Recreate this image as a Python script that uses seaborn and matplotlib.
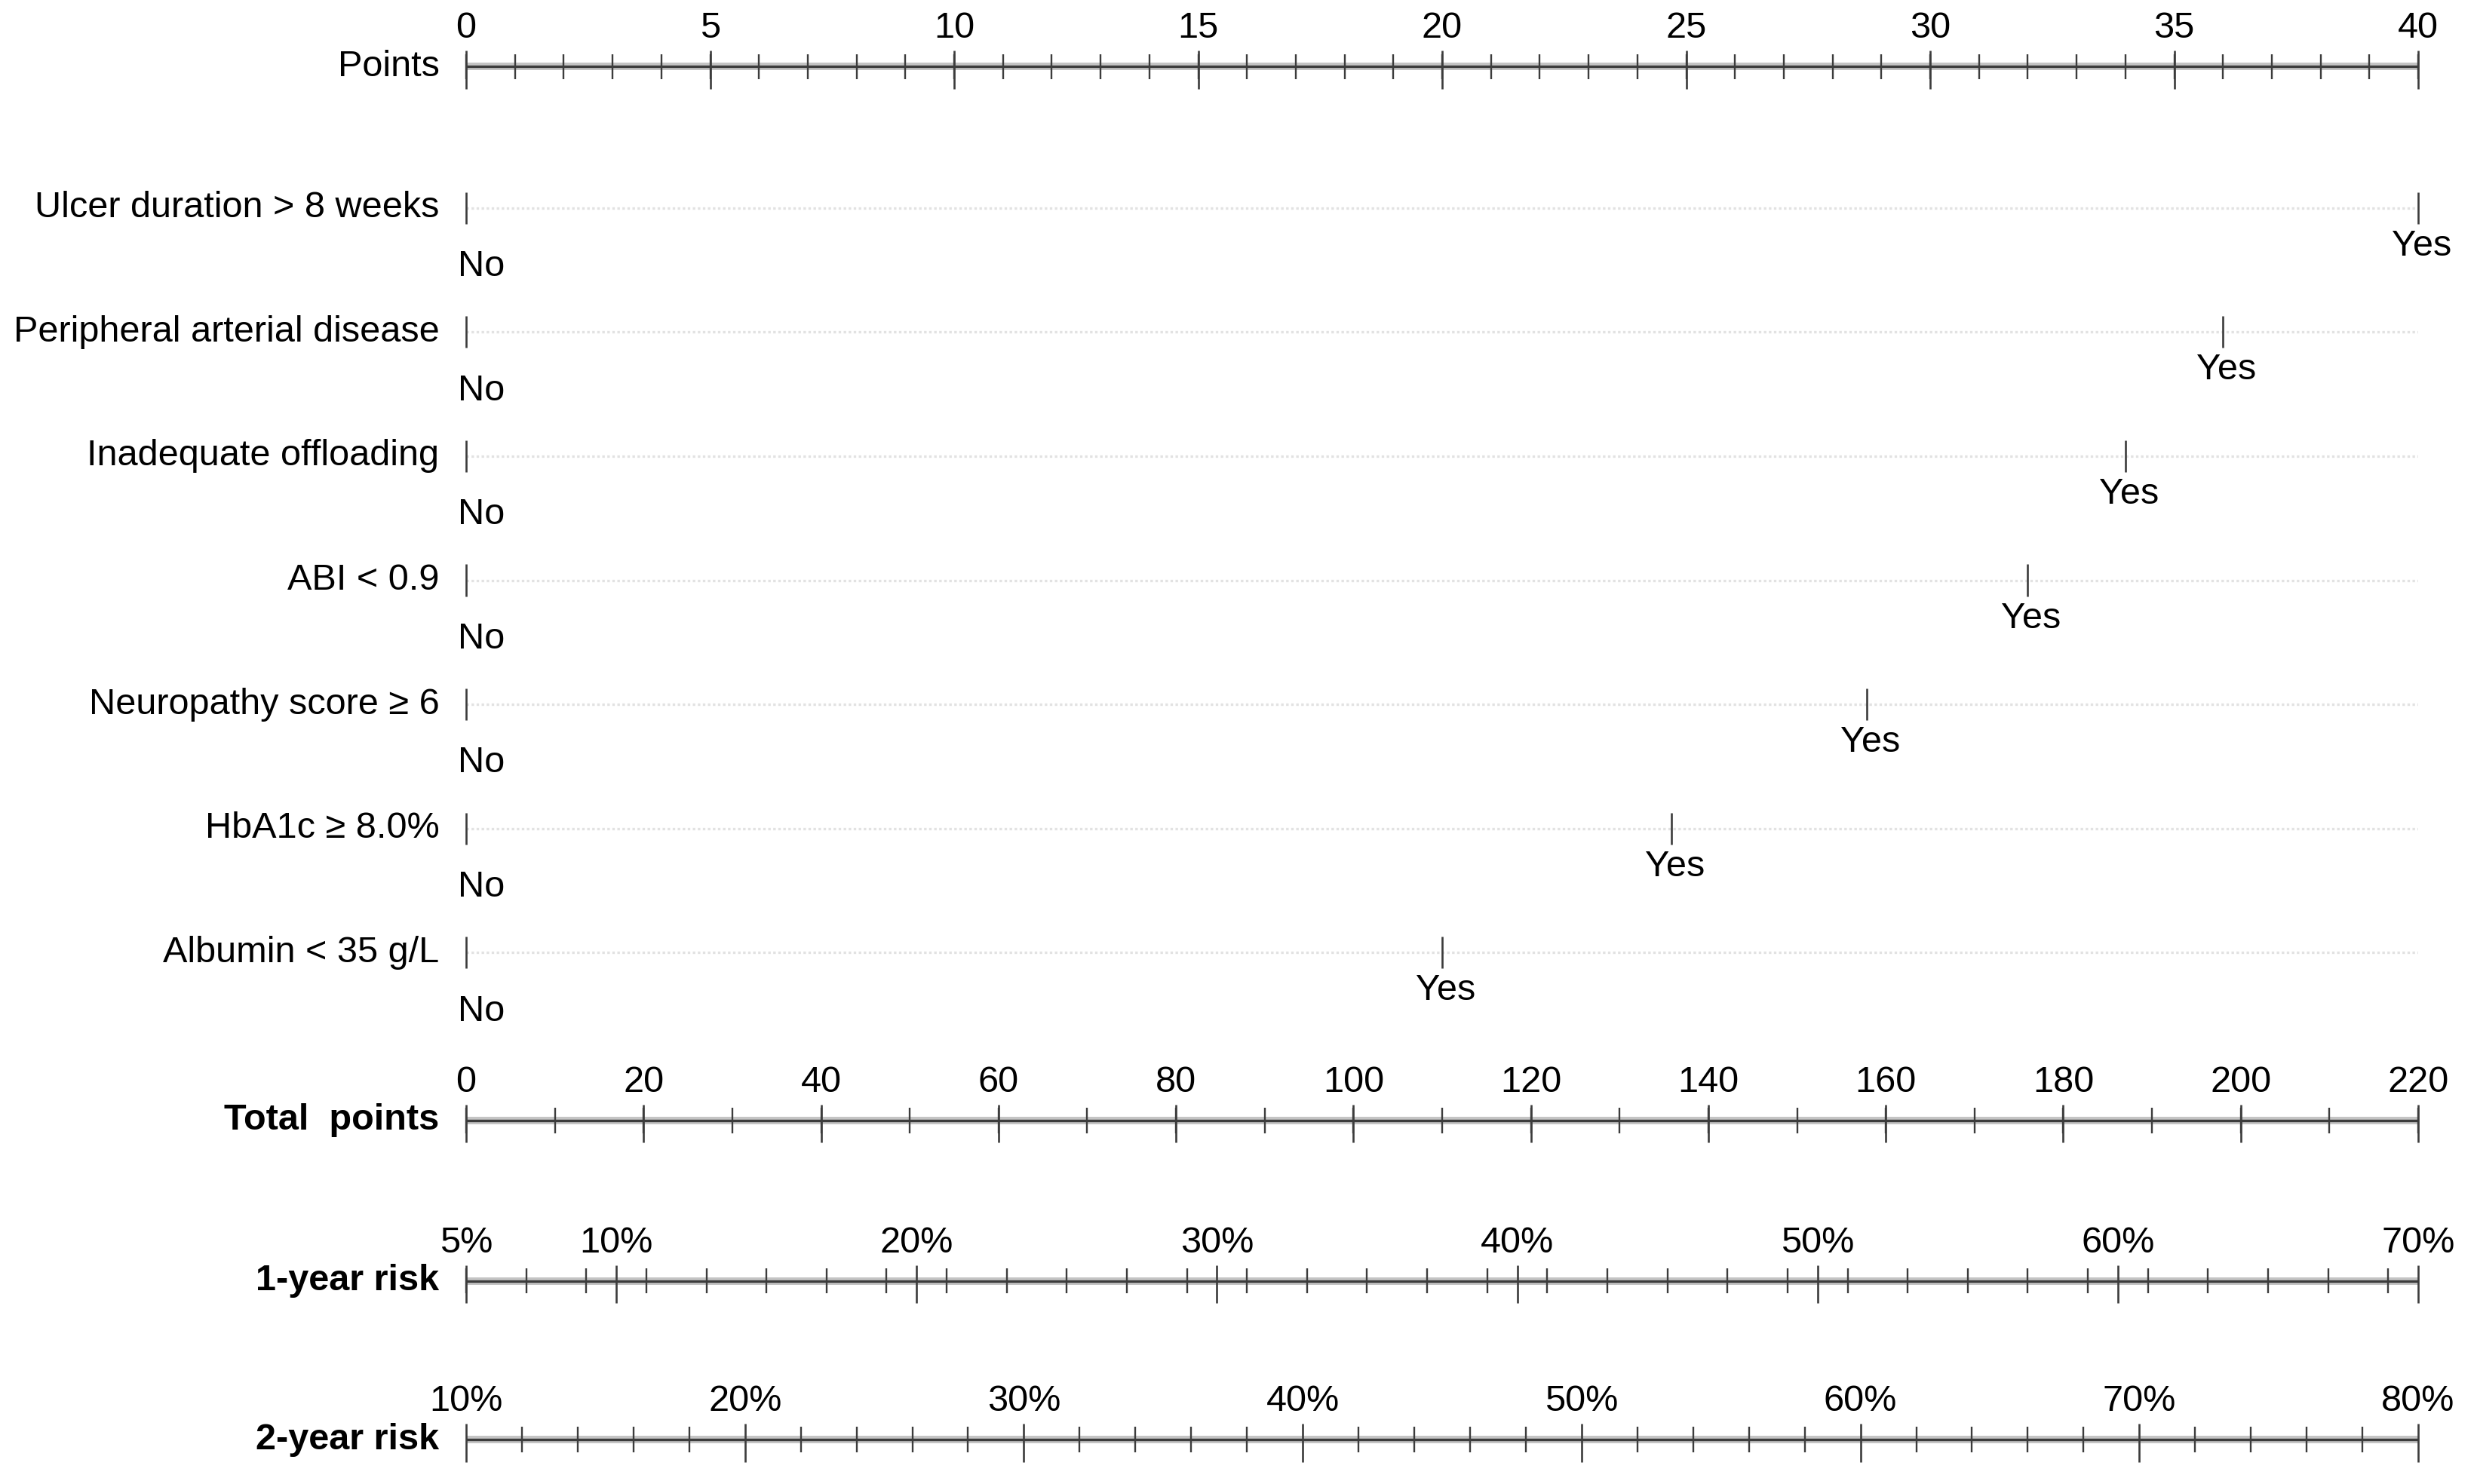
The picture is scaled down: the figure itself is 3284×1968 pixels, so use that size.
import numpy as np
import matplotlib.pyplot as plt
import seaborn as sns

# --- nomogram content ---
predictors = ["Ulcer duration > 8 weeks", "Peripheral arterial disease",
              "Inadequate offloading", "ABI < 0.9", "Neuropathy score \u2265 6",
              "HbA1c \u2265 8.0%", "Albumin < 35 g/L"]
no_points = [0, 0, 0, 0, 0, 0, 0]
yes_points = [40, 36, 34, 32, 28.7, 24.7, 20]

points_max = 40
points_minor = list(range(0, 41, 1))
points_major = list(range(0, 41, 5))

total_max = 220
total_minor = list(range(0, 221, 10))
total_major = list(range(0, 221, 20))

# risk scales: value at 0 and at 220 total points
risk1_ends = [5, 70]
risk1_major = [5, 10, 20, 30, 40, 50, 60, 70]
risk1_minor = list(range(5, 70, 2))
risk2_ends = [10, 80]
risk2_major = [10, 20, 30, 40, 50, 60, 70, 80]
risk2_minor = [v for v in range(10, 81, 2) if v % 10]

# --- layout (y in screen units, top = 0) ---
H = 935
y_points = 42
row_y0, row_step = 131, 78.2
y_total, y_risk1, y_risk2 = 706, 807, 907

sns.set_theme(style="white")
plt.rcParams['font.family'] = ['Liberation Sans', 'DejaVu Sans']
plt.rcParams['text.color'] = 'black'
FS = 17.5
line_c = '#3c3c3c'

fig = plt.figure(figsize=(16.42, 9.84), dpi=200)
ax = fig.add_axes([618 / 3284, 0, (3206 - 618) / 3284, 1])
ax.set_xlim(0, points_max)
ax.set_ylim(H, 0)
ax.axis('off')

lab_x = -0.55


def to_x(total):
    return np.asarray(total, dtype=float) * points_max / total_max


def draw_scale(y, minor, major, labels, name, bold=False):
    sns.lineplot(x=[0, points_max], y=[y, y], color='#c4c4c4', lw=3.6, ax=ax)
    ax.plot([0, points_max], [y, y], color=line_c, lw=1.2, solid_capstyle='butt')
    ax.vlines(minor, y - 8, y + 8, color=line_c, lw=0.85, clip_on=False)
    ax.vlines(major, y - 10, y + 14, color=line_c, lw=0.95, clip_on=False)
    for xp, txt in zip(major, labels):
        ax.text(xp, y - 24, txt, ha='center', va='center', fontsize=FS)
    ax.text(lab_x, y, name, ha='right', va='center', fontsize=FS,
            fontweight='bold' if bold else 'normal')


# Points scale
draw_scale(y_points, points_minor, points_major,
           [str(v) for v in points_major], "Points")

# predictor rows
for i, (name, n0, yv) in enumerate(zip(predictors, no_points, yes_points)):
    y = row_y0 + i * row_step
    ax.plot([n0, points_max], [y, y], color='#e2e2e2', lw=1.2,
            linestyle=(0, (1, 1)))
    ax.vlines([n0, yv], y - 10, y + 10, color=line_c, lw=0.95, clip_on=False)
    ax.text(lab_x, y, name, ha='right', va='center', fontsize=FS)
    ax.text(n0 - 0.17, y + 37, "No", ha='left', va='center', fontsize=FS)
    ax.text(yv + 0.07, y + 24, "Yes", ha='center', va='center', fontsize=FS)

# Total points scale
draw_scale(y_total, to_x(total_minor), to_x(total_major),
           [str(v) for v in total_major], "Total  points", bold=True)


def risk_x(vals, ends):
    return to_x(np.interp(vals, ends, [0, total_max]))


draw_scale(y_risk1, risk_x(risk1_minor, risk1_ends), risk_x(risk1_major, risk1_ends),
           [f"{v}%" for v in risk1_major], "1-year risk", bold=True)
draw_scale(y_risk2, risk_x(risk2_minor, risk2_ends), risk_x(risk2_major, risk2_ends),
           [f"{v}%" for v in risk2_major], "2-year risk", bold=True)

fig.savefig("out.png", dpi=200, facecolor='white')
